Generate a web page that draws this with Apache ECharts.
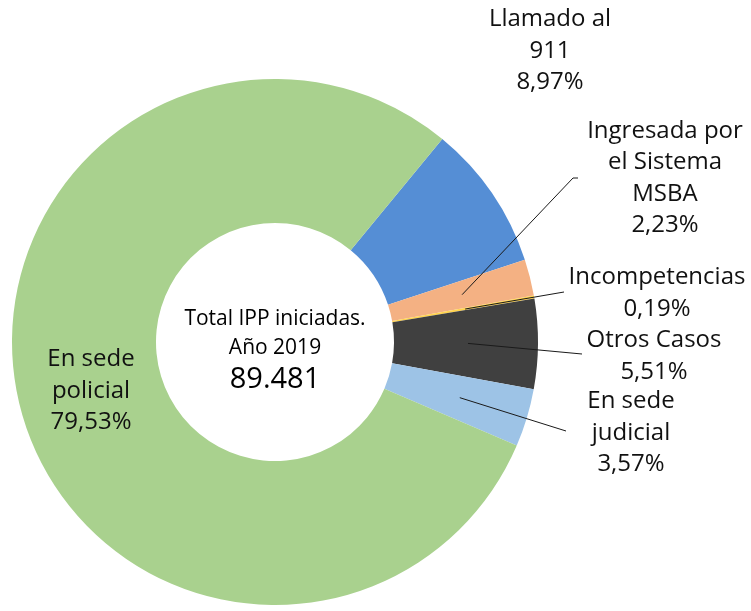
<!DOCTYPE html>
<html>
<head>
<meta charset="utf-8">
<script src="https://cdn.jsdelivr.net/npm/echarts@6/dist/echarts.min.js"></script>
<style>
html,body{margin:0;padding:0;background:#fff;}
#c{width:751px;height:611px;}
</style>
</head>
<body>
<div id="c"></div>
<script>
// ---- data ----
const categories = ['Llamado al 911', 'Ingresada por el Sistema MSBA', 'Incompetencias', 'Otros Casos', 'En sede judicial', 'En sede policial'];
const labelNames = ['Llamado al\n911', 'Ingresada por\nel Sistema\nMSBA', 'Incompetencias', 'Otros Casos', 'En sede\njudicial', 'En sede\npolicial'];
const values = [8.97, 2.23, 0.19, 5.51, 3.57, 79.53];
const centerTitle = ['Total IPP iniciadas.', 'Año 2019'];
const centerTotal = '89.481';

// ---- styling ----
const colors = ['#558ED5', '#F4B183', '#FFD34F', '#404040', '#9DC3E6', '#A9D18E'];
const CX = 275, CY = 342, R_IN = 119, R_OUT = 263, START = 50.5;
const FONT = '"Open Sans"';
// label box centers and label-line end points (styling)
const labelPos = [
  {x: 550, y: 51, line: null},
  {x: 665, y: 178, line: [[573, 178], [578, 178]]},
  {x: 657, y: 293, line: [[564, 292]]},
  {x: 654, y: 356, line: [[582, 354]]},
  {x: 631, y: 433, line: [[566, 431]]},
  {x: 91, y: 391, line: null}
];

const total = values.reduce((a, b) => a + b, 0);
const midAngles = [];
let acc = 0;
values.forEach(v => { midAngles.push(START - (acc + v / 2) / total * 360); acc += v; });

function fmt(v) { return v.toFixed(2).replace('.', ','); }

const lineGraphics = [];
labelPos.forEach((lp, i) => {
  if (!lp.line) return;
  const a = midAngles[i] * Math.PI / 180;
  const r = (R_IN + R_OUT) / 2 + 2;
  const pts = [[CX + r * Math.cos(a), CY - r * Math.sin(a)]].concat(lp.line);
  lineGraphics.push({
    type: 'polyline', z: 100, silent: true,
    shape: {points: pts},
    style: {stroke: '#1a1a1a', lineWidth: 1, fill: null}
  });
});

const chart = echarts.init(document.getElementById('c'), null, {renderer: 'canvas'});
chart.setOption({
  animation: false,
  backgroundColor: '#ffffff',
  series: [{
    type: 'pie',
    center: [CX, CY],
    radius: [R_IN, R_OUT],
    startAngle: START,
    clockwise: true,
    avoidLabelOverlap: false,
    itemStyle: {borderWidth: 0},
    label: {
      show: true,
      position: 'outside',
      color: '#111',
      fontFamily: FONT,
      fontSize: 24,
      lineHeight: 31.5,
      align: 'center',
      formatter: p => labelNames[p.dataIndex] + '\n' + fmt(p.value) + '%'
    },
    labelLine: {show: false},
    labelLayout: function (params) {
      const lp = labelPos[params.dataIndex];
      return {x: lp.x, y: lp.y, align: 'center', verticalAlign: 'middle', hideOverlap: false};
    },
    data: categories.map((c, i) => ({
      name: c,
      value: values[i],
      itemStyle: {color: colors[i]}
    }))
  }],
  graphic: lineGraphics.concat([{
    type: 'text',
    left: CX - 120, top: CY - 33,
    style: {
      text: '{a|' + centerTitle[0] + '}\n{a|' + centerTitle[1] + '}\n{b|' + centerTotal + '}',
      width: 240,
      align: 'center',
      rich: {
        a: {fontFamily: FONT, fontSize: 21, lineHeight: 29, color: '#111', align: 'center', width: 240},
        b: {fontFamily: FONT, fontSize: 29, fontWeight: 500, lineHeight: 33, color: '#111', align: 'center', width: 240}
      }
    }
  }])
});
</script>
</body>
</html>
